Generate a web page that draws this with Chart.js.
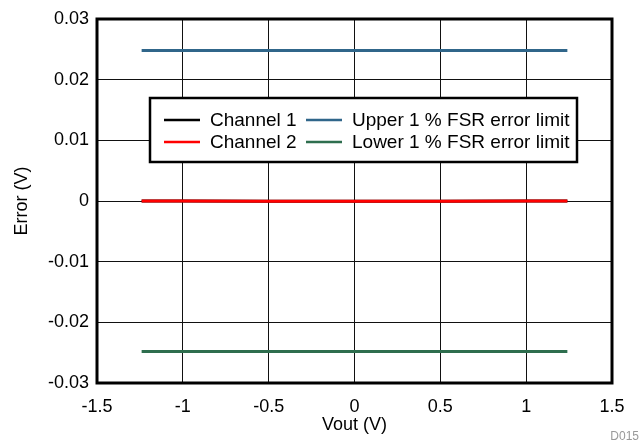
<!DOCTYPE html>
<html>
<head>
<meta charset="utf-8">
<script src="https://cdn.jsdelivr.net/npm/chart.js@4/dist/chart.umd.min.js"></script>
<style>
  html, body { margin: 0; padding: 0; background: #fff; }
  #wrap { width: 641px; height: 443px; }
</style>
</head>
<body>
<div id="wrap"><canvas id="errChart" width="641" height="443"></canvas></div>
<script>
// data
const voutPoints = [-1.24, -1, -0.5, 0, 0.5, 1, 1.24];
const channel1 = [0.0000, 0.0000, -0.00005, -0.00005, -0.00005, 0.0000, 0.0000];
const channel2 = [0.0000, 0.0000, -0.00005, -0.00005, -0.00005, 0.0000, 0.0000];
const upperLimit = [0.0248, 0.0248, 0.0248, 0.0248, 0.0248, 0.0248, 0.0248];
const lowerLimit = [-0.0248, -0.0248, -0.0248, -0.0248, -0.0248, -0.0248, -0.0248];
const xTicks = [-1.5, -1, -0.5, 0, 0.5, 1, 1.5];
const yTicks = [-0.03, -0.02, -0.01, 0, 0.01, 0.02, 0.03];

const FONT = 'Liberation Sans, Arial, sans-serif';
const FSIZE = 18;

function toXY(xs, ys) {
    return xs.map((x, i) => ({ x: x, y: ys[i] }));
}

// legend box + frame + footnote
const decorPlugin = {
    id: 'decor',
    afterDatasetsDraw(chart) {
        const ctx = chart.ctx;
        const a = chart.chartArea;
        ctx.save();
        // frame
        ctx.strokeStyle = '#000';
        ctx.lineWidth = 3;
        ctx.strokeRect(a.left, a.top, a.right - a.left, a.bottom - a.top);

        // legend
        const bx = 150, by = 98, bw = 427, bh = 64;
        ctx.fillStyle = '#fff';
        ctx.fillRect(bx, by, bw, bh);
        ctx.lineWidth = 2.5;
        ctx.strokeRect(bx, by, bw, bh);
        const ds = chart.data.datasets;
        const order = [0, 2, 1, 3];
        const cols = [164, 306];
        const rows = [by + 22, by + 44];
        ctx.font = '19px ' + FONT;
        ctx.textBaseline = 'middle';
        order.forEach((idx, k) => {
            const cx = cols[k % 2], cy = rows[Math.floor(k / 2)];
            ctx.strokeStyle = ds[idx].borderColor;
            ctx.lineWidth = 2.5;
            ctx.beginPath();
            ctx.moveTo(cx, cy);
            ctx.lineTo(cx + 36, cy);
            ctx.stroke();
            ctx.fillStyle = '#000';
            ctx.textAlign = 'left';
            ctx.fillText(ds[idx].label, cx + 46, cy + 1);
        });

        // footnote
        ctx.font = '12px ' + FONT;
        ctx.fillStyle = '#999';
        ctx.textAlign = 'right';
        ctx.fillText('D015', 639, 437);
        ctx.restore();
    }
};

new Chart(document.getElementById('errChart'), {
    type: 'scatter',
    data: {
        datasets: [
            { label: 'Channel 1', data: toXY(voutPoints, channel1), borderColor: '#000000', order: 1 },
            { label: 'Channel 2', data: toXY(voutPoints, channel2), borderColor: '#ff0000', order: 0 },
            { label: 'Upper 1 % FSR error limit', data: toXY(voutPoints, upperLimit), borderColor: '#30668a', order: 2 },
            { label: 'Lower 1 % FSR error limit', data: toXY(voutPoints, lowerLimit), borderColor: '#2e6e4e', order: 2 }
        ].map(d => Object.assign(d, {
            showLine: true,
            borderWidth: 3,
            pointRadius: 0,
            tension: 0,
            fill: false
        }))
    },
    options: {
        responsive: false,
        animation: false,
        layout: { padding: { top: 19, right: 29, left: 0, bottom: 0 } },
        plugins: {
            legend: { display: false },
            tooltip: { enabled: false }
        },
        scales: {
            x: {
                type: 'linear',
                min: -1.5,
                max: 1.5,
                afterBuildTicks: (axis) => { axis.ticks = xTicks.map(v => ({ value: v })); },
                afterFit: (axis) => { axis.height = 60; },
                grid: { color: '#111', lineWidth: 1, drawTicks: false },
                border: { display: false },
                ticks: {
                    color: '#000',
                    font: { family: FONT, size: FSIZE },
                    padding: 13,
                    maxRotation: 0,
                    callback: (v) => String(v)
                },
                title: {
                    display: true,
                    text: 'Vout (V)',
                    color: '#000',
                    font: { family: FONT, size: FSIZE },
                    padding: { top: 0, bottom: 7 }
                }
            },
            y: {
                type: 'linear',
                min: -0.03,
                max: 0.03,
                afterBuildTicks: (axis) => { axis.ticks = yTicks.map(v => ({ value: v })); },
                afterFit: (axis) => { axis.width = 97; },
                grid: { color: '#111', lineWidth: 1, drawTicks: false },
                border: { display: false },
                ticks: {
                    color: '#000',
                    font: { family: FONT, size: FSIZE },
                    padding: 8,
                    callback: (v) => String(Math.round(v * 100) / 100)
                },
                title: {
                    display: true,
                    text: 'Error (V)',
                    color: '#000',
                    font: { family: FONT, size: FSIZE },
                    padding: { top: 11, bottom: 0 }
                }
            }
        }
    },
    plugins: [decorPlugin]
});
</script>
</body>
</html>
